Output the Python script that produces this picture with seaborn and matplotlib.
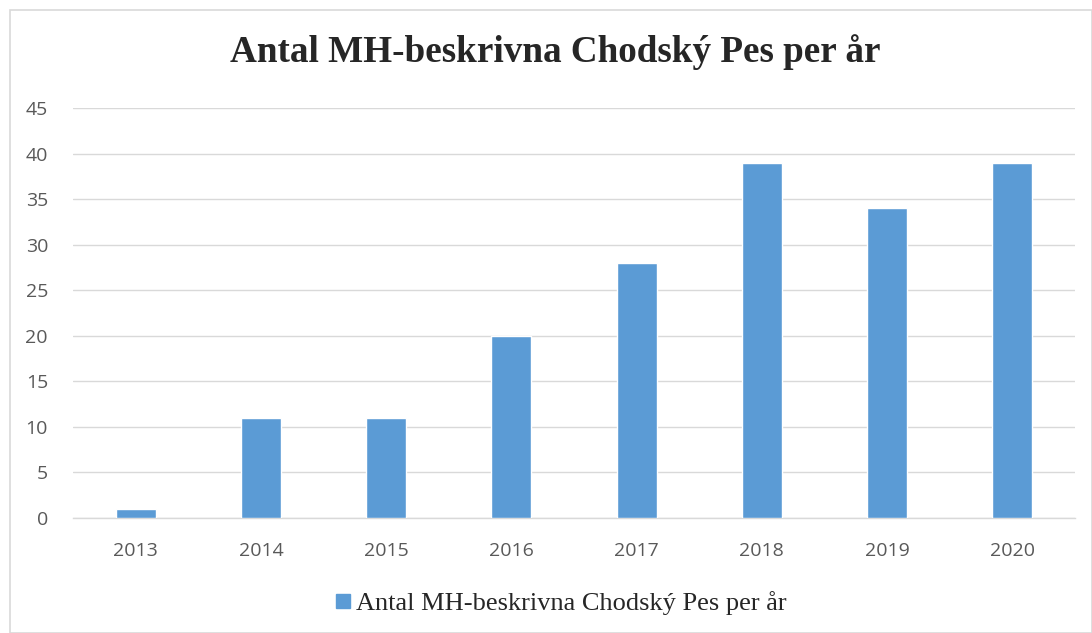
import matplotlib
matplotlib.use("Agg")
import matplotlib.pyplot as plt
import seaborn as sns
import pandas as pd
from matplotlib.patches import Rectangle
from matplotlib.lines import Line2D

years = ["2013", "2014", "2015", "2016", "2017", "2018", "2019", "2020"]
counts = [1, 11, 11, 20, 28, 39, 34, 39]
series_name = "Antal MH-beskrivna Chodský Pes per år"
title_text = "Antal MH-beskrivna Chodský Pes per år"

df = pd.DataFrame({"year": years, "count": counts})

sns.set_theme(style="white")
plt.rcParams["font.family"] = ["Open Sans", "DejaVu Sans"]

fig = plt.figure(figsize=(10.92, 6.33), dpi=100)
ax = fig.add_axes([73/1092, 1-518/633, (1075-73)/1092, (518-108)/633])

sns.barplot(data=df, x="year", y="count", color="#5B9BD5", width=0.32,
            saturation=1, ax=ax, zorder=3)

ax.set_ylim(0, 45)
ax.set_xlim(-0.5, 7.5)
ax.set_yticks(range(0, 46, 5))
ax.yaxis.grid(True, color="#D9D9D9", linewidth=1, zorder=0)
ax.set_xlabel("")
ax.set_ylabel("")
for s in ["top", "right", "left"]:
    ax.spines[s].set_visible(False)
ax.spines["bottom"].set_color("#D9D9D9")
ax.spines["bottom"].set_linewidth(1)
ax.tick_params(axis="both", colors="#595959", labelsize=14, length=0)
ax.tick_params(axis="y", pad=18)
ax.tick_params(axis="x", pad=17)

fig.text(555/1092, 1-52/633, title_text, ha="center", va="center",
         fontsize=26.7, fontweight="bold", family=["Liberation Serif", "DejaVu Serif"])

handle = Line2D([], [], marker="s", linestyle="none", color="#5B9BD5", markersize=10.5)
fig.legend([handle], [series_name], loc="center", bbox_to_anchor=(558/1092, 1-603/633),
           frameon=False, prop={"family": ["Liberation Serif", "DejaVu Serif"], "size": 19},
           handletextpad=0.0, handlelength=1.0, borderaxespad=0)

fig.patches.append(Rectangle((10/1092, 0), 1 - 10/1092, 1 - 10/633, transform=fig.transFigure,
                             fill=False, edgecolor="#D9D9D9", linewidth=1.2))

fig.savefig("out.png", dpi=100)
